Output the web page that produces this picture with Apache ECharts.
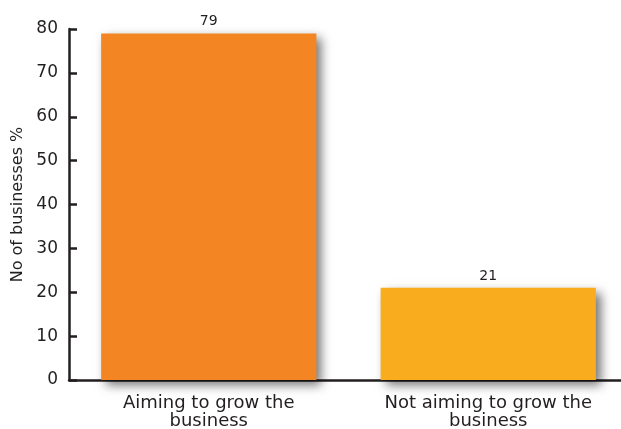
<!DOCTYPE html>
<html><head><meta charset="utf-8">
<script src="https://cdn.jsdelivr.net/npm/echarts@6/dist/echarts.min.js"></script>
<style>html,body{margin:0;padding:0;background:#fff}#c{width:621px;height:429px}</style>
</head><body><div id="c"></div>
<script>
const categories = ['Aiming to grow the\nbusiness', 'Not aiming to grow the\nbusiness'];
const values = [79, 21];
const barColors = ['#F38622', '#F9AC1E'];
const yTicks = { min: 0, max: 80, interval: 10 };
const yName = 'No of businesses %';

const chart = echarts.init(document.getElementById('c'));
const font = 'DejaVu Sans';
chart.setOption({
  animation: false,
  textStyle: { fontFamily: font },
  grid: { left: 69, width: 559, top: 29, height: 351, outerBoundsMode: 'none', containLabel: false },
  xAxis: {
    type: 'category',
    data: categories,
    axisLine: { lineStyle: { color: '#231f20', width: 2.5 } },
    axisTick: { inside: true, length: 7, lineStyle: { color: '#231f20', width: 2.5 } },
    axisLabel: { color: '#231f20', fontSize: 18, lineHeight: 18, margin: 14, fontFamily: font }
  },
  yAxis: {
    type: 'value',
    min: yTicks.min, max: yTicks.max, interval: yTicks.interval,
    name: yName,
    nameLocation: 'middle',
    nameGap: 38,
    nameTextStyle: { color: '#231f20', fontSize: 16, fontFamily: font },
    splitLine: { show: false },
    axisLine: { show: true, lineStyle: { color: '#231f20', width: 2.5 } },
    axisTick: { show: true, inside: true, length: 8, lineStyle: { color: '#231f20', width: 2.5 } },
    axisLabel: { color: '#231f20', fontSize: 17, margin: 11, fontFamily: font }
  },
  series: [{
    type: 'bar',
    barWidth: '77%',
    data: values.map((v, i) => ({
      value: v,
      itemStyle: { color: barColors[i], shadowColor: 'rgba(0,0,0,0.55)', shadowBlur: 10, shadowOffsetX: 5, shadowOffsetY: 5 }
    })),
    label: { show: true, position: 'top', distance: 5, color: '#231f20', fontSize: 14, fontFamily: font }
  }]
});
</script></body></html>
